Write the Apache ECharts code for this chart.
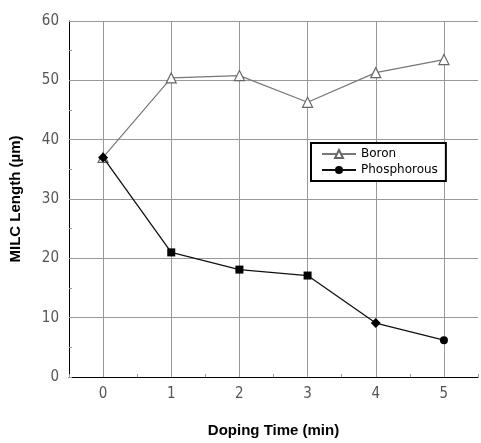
<!DOCTYPE html>
<html>
<head>
<meta charset="utf-8">
<script src="https://cdn.jsdelivr.net/npm/echarts@6/dist/echarts.min.js"></script>
<style>
  html, body { margin: 0; padding: 0; background: #fff; }
  #chart { width: 481px; height: 443px; }
</style>
</head>
<body>
<div id="chart"></div>
<script>
// doping time (min)
const times = [0, 1, 2, 3, 4, 5]
// MILC length (um)
const boron = [37, 50.4, 50.8, 46.3, 51.3, 53.5]
const phosphorous = [37, 21.0, 18.1, 17.1, 9.1, 6.2]
const yTicks = [0, 10, 20, 30, 40, 50, 60]

const chart = echarts.init(document.getElementById('chart'))

// marker shapes on the phosphorous curve are not all the same
const phosShapes = ['diamond', 'rect', 'rect', 'rect', 'diamond', 'circle']

const tickFont = {
  color: '#555',
  fontSize: 15,
  fontFamily: 'DejaVu Sans Condensed, sans-serif'
}

const gridColor = '#999'

const option = {
  animation: false,
  backgroundColor: '#fff',
  grid: { left: 69, right: 0, top: 21, bottom: 57 },
  legend: {
    orient: 'vertical',
    left: 311,
    top: 143,
    width: 136,
    height: 36,
    padding: [5, 8, 5, 10],
    itemGap: 4,
    itemWidth: 34,
    itemHeight: 10,
    borderColor: '#000',
    borderWidth: 2,
    backgroundColor: '#fff',
    textStyle: { color: '#000', fontSize: 12, fontFamily: 'DejaVu Sans, sans-serif' },
    data: ['Boron', 'Phosphorous']
  },
  xAxis: {
    type: 'value',
    min: -0.5,
    max: 5.5,
    interval: 0.5,
    name: 'Doping Time (min)',
    nameLocation: 'middle',
    nameGap: 46,
    nameTextStyle: { color: '#000', fontSize: 15, fontWeight: 'bold', fontFamily: 'Liberation Sans, Arial, sans-serif' },
    axisLine: { onZero: false, lineStyle: { color: '#000', width: 1 } },
    axisTick: { show: true, inside: true, length: 3, lineStyle: { color: '#999' } },
    splitLine: { show: false },
    axisLabel: {
      ...tickFont,
      margin: 10,
      formatter: v => times.includes(v) ? String(v) : ''
    }
  },
  yAxis: {
    type: 'value',
    min: 0,
    max: 60,
    interval: 10,
    name: 'MILC Length (\u00b5m)',
    nameLocation: 'middle',
    nameGap: 46,
    nameTextStyle: { color: '#000', fontSize: 15, fontWeight: 'bold', fontFamily: 'Liberation Sans, Arial, sans-serif' },
    axisLine: { show: true, onZero: false, lineStyle: { color: '#000', width: 1 } },
    axisTick: { show: true, inside: true, length: 3, lineStyle: { color: '#999' } },
    minorTick: { show: true, splitNumber: 2, length: 3, lineStyle: { color: '#999' } },
    splitLine: { show: true, lineStyle: { color: gridColor, width: 1 } },
    axisLabel: {
      ...tickFont,
      margin: 10,
      formatter: v => yTicks.includes(v) ? String(v) : ''
    }
  },
  series: [
    {
      name: 'Boron',
      type: 'line',
      data: times.map((t, i) => [t, boron[i]]),
      symbol: 'triangle',
      symbolSize: 10,
      lineStyle: { color: '#777', width: 1.2 },
      itemStyle: { color: '#fff', borderColor: '#666', borderWidth: 1.2 },
      // vertical grid lines at each doping time
      markLine: {
        silent: true,
        symbol: 'none',
        label: { show: false },
        lineStyle: { color: gridColor, width: 1, type: 'solid' },
        data: times.map(t => ({ xAxis: t })),
        z: 1
      },
      z: 3
    },
    {
      name: 'Phosphorous',
      type: 'line',
      data: times.map((t, i) => ({
        value: [t, phosphorous[i]],
        symbol: phosShapes[i],
        symbolSize: phosShapes[i] === 'diamond' ? 10 : 8
      })),
      symbol: 'circle',
      symbolSize: 8,
      lineStyle: { color: '#111', width: 1.3 },
      itemStyle: { color: '#000' },
      z: 4
    }
  ]
}

chart.setOption(option)
</script>
</body>
</html>
